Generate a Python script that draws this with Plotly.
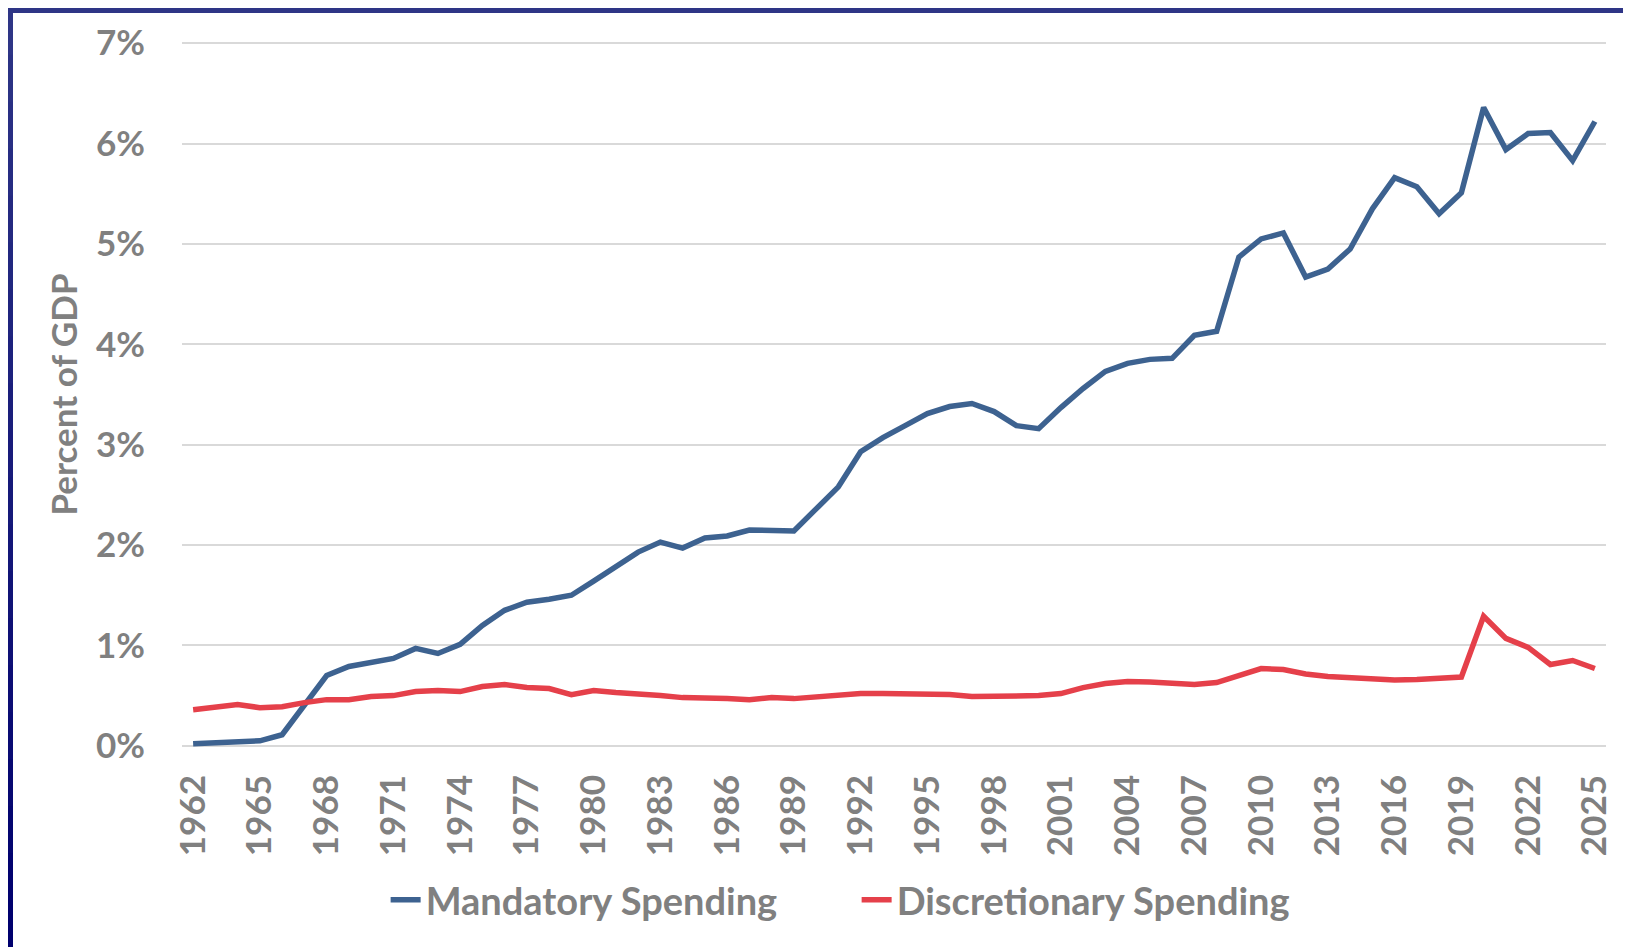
import plotly.graph_objects as go

# the page body adds an 8px margin, so the figure is drawn 8px smaller
W, H = 1623, 939
ML, MR, MT, MB = 174, 25, 34, 200

years = list(range(1962, 2026))

mandatory = [
    0.02, 0.03, 0.04, 0.05, 0.11, 0.41, 0.70, 0.79, 0.83, 0.87,
    0.97, 0.92, 1.01, 1.20, 1.35, 1.43, 1.46, 1.50, 1.64, 1.78,
    1.93, 2.03, 1.97, 2.07, 2.09, 2.15, 2.14, 2.14, 2.36, 2.58,
    2.93, 3.07, 3.19, 3.31, 3.38, 3.41, 3.33, 3.19, 3.16, 3.37,
    3.56, 3.73, 3.81, 3.85, 3.86, 4.09, 4.13, 4.87, 5.05, 5.11,
    4.67, 4.75, 4.95, 5.35, 5.66, 5.57, 5.30, 5.51, 6.36, 5.94,
    6.10, 6.11, 5.83, 6.22,
]

discretionary = [
    0.36, 0.38, 0.41, 0.38, 0.39, 0.43, 0.46, 0.46, 0.49, 0.50,
    0.54, 0.55, 0.54, 0.59, 0.61, 0.58, 0.57, 0.51, 0.55, 0.53,
    0.52, 0.50, 0.48, 0.48, 0.47, 0.46, 0.48, 0.47, 0.49, 0.50,
    0.52, 0.52, 0.52, 0.52, 0.51, 0.49, 0.49, 0.49, 0.50, 0.52,
    0.58, 0.62, 0.64, 0.635, 0.62, 0.61, 0.63, 0.70, 0.77, 0.76,
    0.715, 0.69, 0.675, 0.67, 0.655, 0.66, 0.67, 0.685, 1.29, 1.07,
    0.98, 0.81, 0.85, 0.77,
]

tick_years = years[::3]

GRAY = "#808080"
FONT = "Lato"
BLUE = "#3D6290"
RED = "#E5404A"

fig = go.Figure()

fig.add_trace(go.Scatter(
    x=years, y=mandatory, mode="lines", name="Mandatory Spending",
    line=dict(color=BLUE, width=5.5),
))
fig.add_trace(go.Scatter(
    x=years, y=discretionary, mode="lines", name="Discretionary Spending",
    line=dict(color=RED, width=5.5),
))

# dark frame along the top and left edges
pw, ph = W - ML - MR, H - MT - MB


def px_x(v):
    return (v - ML) / pw


def px_y(v):
    return (H - MB - v) / ph


shapes = [dict(type="rect", xref="paper", yref="paper",
               x0=px_x(0), x1=px_x(W), y0=px_y(5), y1=px_y(0),
               fillcolor="#2E3586", line_width=0, layer="above")]
n = 20
for i in range(n):
    t = i / (n - 1)
    r = int(46 * (1 - t))
    g = int(53 * (1 - t))
    b = int(134 * (1 - t) + 110 * t)
    shapes.append(dict(type="rect", xref="paper", yref="paper",
                       x0=px_x(0), x1=px_x(5),
                       y0=px_y(min(H, H * (i + 1) / n + 2)), y1=px_y(H * i / n),
                       fillcolor=f"rgb({r},{g},{b})", line_width=0, layer="above"))

fig.update_layout(
    width=W, height=H,
    margin=dict(l=ML, r=MR, t=MT, b=MB),
    paper_bgcolor="white", plot_bgcolor="white",
    font=dict(family=FONT, color=GRAY),
    shapes=shapes,
    showlegend=True,
    legend=dict(
        orientation="h", x=0.143, xanchor="left", y=-0.217, yanchor="middle",
        font=dict(size=38, family=FONT, color=GRAY, weight="bold"),
        entrywidth=426,
    ),
    xaxis=dict(
        range=[1961.5, 2025.5],
        tickvals=tick_years, ticktext=[str(y) for y in tick_years],
        tickangle=-90, showgrid=False, zeroline=False, showline=False,
        tickfont=dict(size=35, family=FONT, color=GRAY, weight="bold"),
        ticks="", ticklabelstandoff=20,
    ),
    yaxis=dict(
        range=[-0.012, 7.012], tickvals=list(range(8)),
        ticktext=[f"{v}%" for v in range(8)],
        showgrid=True, gridcolor="#D9D9D9", gridwidth=2,
        zeroline=False, showline=False,
        tickfont=dict(size=35, family=FONT, color=GRAY, weight="bold"),
        ticks="", ticklabelstandoff=36,
        title=dict(text="Percent of GDP", standoff=7,
                   font=dict(size=35, family=FONT, color=GRAY, weight="bold")),
    ),
)

fig.write_html("out.html")
